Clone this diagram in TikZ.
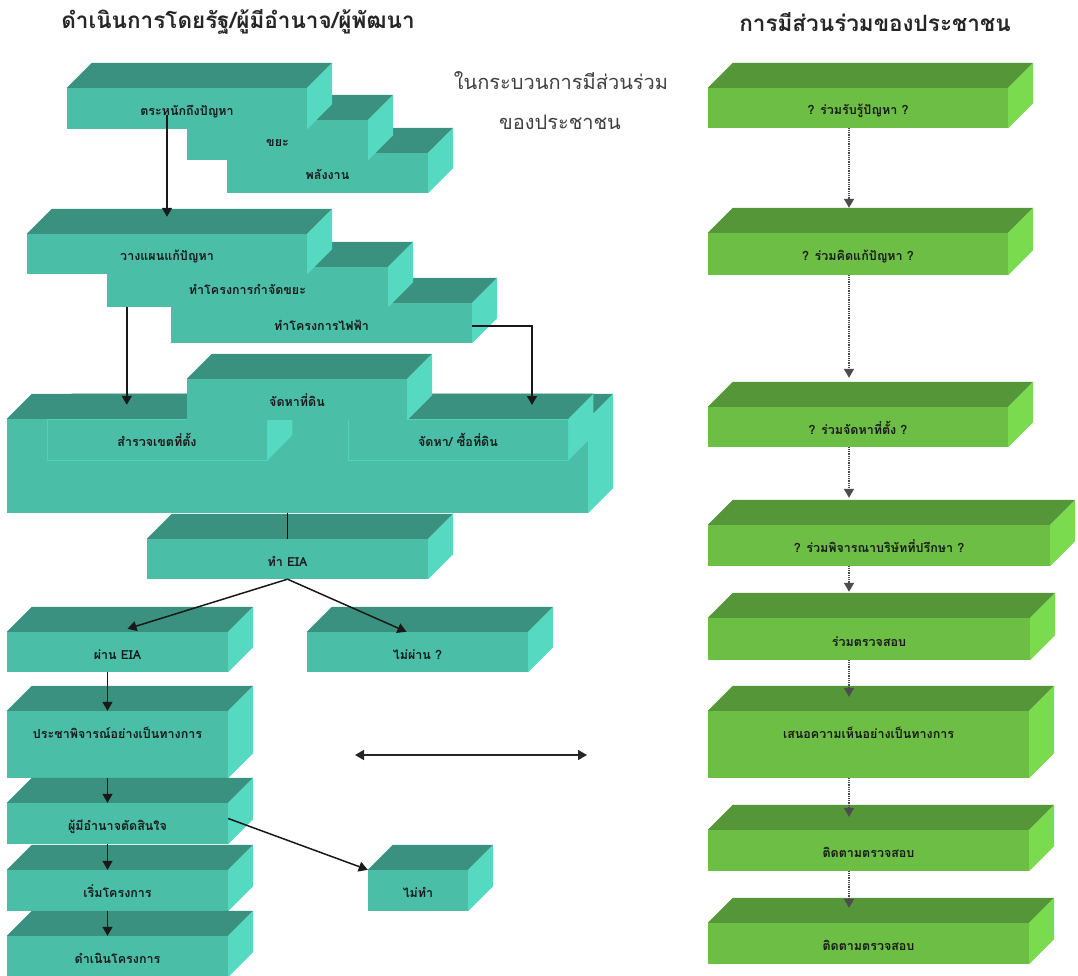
\documentclass[tikz,border=0pt]{standalone}
\usepackage{fontspec}
\newfontfamily\thai[Script=Thai]{Loma}
\usetikzlibrary{arrows.meta,calc}

\definecolor{tfront}{HTML}{4BBEA8}
\definecolor{ttop}{HTML}{3A9180}
\definecolor{tside}{HTML}{55DAC1}
\definecolor{gfront}{HTML}{6CBE44}
\definecolor{gtop}{HTML}{549638}
\definecolor{gside}{HTML}{7ADB4E}
\definecolor{labeltxt}{HTML}{1A1A1A}

% top and right faces of a slab, drawn behind the next slab
\newcommand{\slab}[3]{%
  \fill[#2] (#1.north west) -- ++(25pt,25pt) -- ([shift={(25pt,25pt)}]#1.north east) -- (#1.north east) -- cycle;
  \fill[#3] (#1.north east) -- ++(25pt,25pt) -- ([shift={(25pt,25pt)}]#1.south east) -- (#1.south east) -- cycle;
}

\begin{document}
\begin{tikzpicture}[x=1pt, y=-1pt,
  title/.style={font=\thai\bfseries\fontsize{22.5}{26}\selectfont, text=black!85},
  note/.style={font=\thai\fontsize{20}{24}\selectfont, text=black!75},
  tealbox/.style={rectangle, fill=tfront, inner sep=0pt, text=labeltxt,
    text height=16pt, text depth=2pt,
    font=\thai\bfseries\fontsize{12.5}{15}\selectfont},
  greenbox/.style={tealbox, fill=gfront},
  tall/.style={text depth=28pt},
  inner/.style={tealbox, draw=tside!70!tfront, line width=0.6pt},
  arr/.style={-{Triangle[length=9pt,width=10pt]}, line width=1.5pt, draw=black!90},
  dotarr/.style={arr, draw=black!70, line width=1.4pt, dash pattern=on 1pt off 0.8pt},
  twoway/.style={{Triangle[length=9pt,width=10pt]}-{Triangle[length=9pt,width=10pt]}, line width=1.5pt, draw=black!85}
  ]
\useasboundingbox (0,0) rectangle (1078,976);
\fill[white] (0,0) rectangle (1078,976);

% headings
\node[title] (lefthead) at (238,22) {ดำเนินการโดยรัฐ/ผู้มีอำนาจ/ผู้พัฒนา};
\node[title] (righthead) at (875,22) {การมีส่วนร่วมของประชาชน};
\node[note] (note1) at (561,81) {ในกระบวนการมีส่วนร่วม};
\node[note] (note2) at (560,122) {ของประชาชน};

% awareness stack (back to front)
\node[tealbox, minimum width=201pt, minimum height=40pt] (energy) at (327.5,173) {พลังงาน};
\slab{energy}{ttop}{tside}
\node[tealbox, minimum width=181pt, minimum height=40pt] (waste) at (277.5,140) {ขยะ};
\slab{waste}{ttop}{tside}
\node[tealbox, minimum width=240pt, minimum height=41pt] (aware) at (187,108.5) {ตระหนักถึงปัญหา};
\slab{aware}{ttop}{tside}

% planning stack
\node[tealbox, minimum width=301pt, minimum height=40pt] (power) at (321.5,323) {ทำโครงการไฟฟ้า};
\slab{power}{ttop}{tside}
\node[tealbox, minimum width=281pt, minimum height=40pt] (trash) at (247.5,287) {ทำโครงการกำจัดขยะ};
\slab{trash}{ttop}{tside}
\node[tealbox, minimum width=280pt, minimum height=40pt] (plan) at (167,254) {วางแผนแก้ปัญหา};
\slab{plan}{ttop}{tside}

% land block
\node[tealbox, minimum width=281pt, minimum height=40pt] (eia) at (287.5,559) {ทำ EIA};
\slab{eia}{ttop}{tside}
\node[tealbox, minimum width=581pt, minimum height=94pt] (landbig) at (297.5,466) {};
\slab{landbig}{ttop}{tside}
\node[inner, minimum width=220pt, minimum height=41pt] (survey) at (157,439.5) {สำรวจเขตที่ตั้ง};
\slab{survey}{ttop}{tside}
\node[inner, minimum width=220pt, minimum height=41pt] (buy) at (458,439.5) {จัดหา/ ซื้อที่ดิน};
\slab{buy}{ttop}{tside}
\node[tealbox, minimum width=220pt, minimum height=41pt] (land) at (297,399.5) {จัดหาที่ดิน};
\slab{land}{ttop}{tside}

% decision column
\node[tealbox, minimum width=221pt, minimum height=40pt] (pass) at (117.5,652) {ผ่าน EIA};
\slab{pass}{ttop}{tside}
\node[tealbox, minimum width=221pt, minimum height=40pt] (fail) at (417.5,652) {ไม่ผ่าน ?};
\slab{fail}{ttop}{tside}
\node[tealbox, tall, minimum width=221pt, minimum height=67pt] (hearing) at (117.5,744.5) {ประชาพิจารณ์อย่างเป็นทางการ};
\slab{hearing}{ttop}{tside}
\node[tealbox, minimum width=221pt, minimum height=41pt] (decide) at (117.5,823.5) {ผู้มีอำนาจตัดสินใจ};
\slab{decide}{ttop}{tside}
\node[tealbox, minimum width=221pt, minimum height=41pt] (start) at (117.5,890.5) {เริ่มโครงการ};
\slab{start}{ttop}{tside}
\node[tealbox, minimum width=221pt, minimum height=41pt] (run) at (117.5,956.5) {ดำเนินโครงการ};
\slab{run}{ttop}{tside}
\node[tealbox, minimum width=100pt, minimum height=41pt] (nodo) at (418,890.5) {ไม่ทำ};
\slab{nodo}{ttop}{tside}

% public participation column
\node[greenbox, minimum width=300pt, minimum height=40pt] (r1) at (858,108) {? ร่วมรับรู้ปัญหา ?};
\slab{r1}{gtop}{gside}
\node[greenbox, minimum width=300pt, minimum height=42pt] (r2) at (858,254) {? ร่วมคิดแก้ปัญหา ?};
\slab{r2}{gtop}{gside}
\node[greenbox, minimum width=300pt, minimum height=40pt] (r3) at (858,427) {? ร่วมจัดหาที่ตั้ง ?};
\slab{r3}{gtop}{gside}
\node[greenbox, minimum width=342pt, minimum height=41pt] (r4) at (879,545.5) {? ร่วมพิจารณาบริษัทที่ปรึกษา ?};
\slab{r4}{gtop}{gside}
\node[greenbox, minimum width=322pt, minimum height=42pt] (r5) at (869,639) {ร่วมตรวจสอบ};
\slab{r5}{gtop}{gside}
\node[greenbox, tall, minimum width=321pt, minimum height=67pt] (r6) at (868.5,744.5) {เสนอความเห็นอย่างเป็นทางการ};
\slab{r6}{gtop}{gside}
\node[greenbox, minimum width=321pt, minimum height=41pt] (r7) at (868.5,850.5) {ติดตามตรวจสอบ};
\slab{r7}{gtop}{gside}
\node[greenbox, minimum width=321pt, minimum height=41pt] (r8) at (868.5,943.5) {ติดตามตรวจสอบ};
\slab{r8}{gtop}{gside}

% connectors, left
\draw[arr] (aware.center -| plan.north) ++(0,7) -- ($(plan.north)+(0,-17)$);
\coordinate (trashfoot) at ($(trash.south west)+(20,0)$);
\draw[arr] (trashfoot) -- ($(trashfoot |- landbig.north)+(0,-14)$);
\coordinate (buydrop) at (532,405);
\draw[arr] ($(power.east)+(0,3)$) -| (buydrop);
\draw[line width=1.5pt] (eia.north |- landbig.south) -- (eia.north);
\draw[arr] (eia.south) -- ($(pass.north)+(10,-3)$);
\draw[arr] (eia.south) -- ($(fail.north)+(-11,0)$);
\draw[arr] ($(pass.south)+(-10,0)$) -- ($(hearing.north)+(-10,0)$);
\draw[arr] ($(hearing.south)+(-10,0)$) -- ($(decide.north)+(-10,0)$);
\draw[arr] ($(decide.south)+(-10,0)$) -- ($(start.north)+(-10,0)$);
\draw[arr] ($(start.south)+(-10,0)$) -- ($(run.north)+(-10,0)$);
\draw[arr] ($(decide.east)+(0,-5)$) -- (nodo.north west);

% two-way link between the columns
\coordinate (linkL) at (355,755);
\coordinate (linkR) at (587,755);
\draw[twoway] (linkL) -- (linkR);

% connectors, right
\draw[dotarr] ($(r1.south)+(-9,0)$) -- ($(r2.north)+(-9,-25)$);
\draw[dotarr] ($(r2.south)+(-9,0)$) -- ($(r3.north)+(-9,-29)$);
\draw[dotarr] ($(r3.south -| r1.south)+(-9,0)$) -- ($(r4.north -| r1.south)+(-9,-27)$);
\draw[dotarr] ($(r4.south -| r1.south)+(-9,0)$) -- ($(r5.north -| r1.south)+(-9,-26)$);
\draw[dotarr] ($(r5.south -| r1.south)+(-9,0)$) -- ($(r6.north -| r1.south)+(-9,-14)$);
\draw[dotarr] ($(r6.south -| r1.south)+(-9,0)$) -- ($(r7.north -| r1.south)+(-9,-13)$);
\draw[dotarr] ($(r7.south -| r1.south)+(-9,0)$) -- ($(r8.north -| r1.south)+(-9,-15)$);
\end{tikzpicture}
\end{document}
